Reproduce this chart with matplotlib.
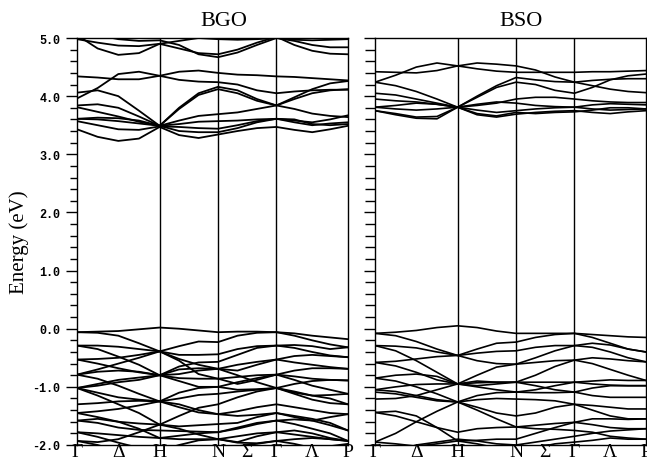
import numpy as np
import matplotlib
matplotlib.use("Agg")
import matplotlib.pyplot as plt
from matplotlib.ticker import MultipleLocator

# bcc path G-H-N-G-P, segment lengths in units of 2pi/a
seg_len = [1.0, np.sqrt(2) / 2, np.sqrt(2) / 2, np.sqrt(3) / 2]
# sampled fractions along each segment
seg_frac = [[0, 0.25, 0.5, 0.75, 1], [1/3, 2/3, 1], [1/3, 2/3, 1], [0.25, 0.5, 0.75, 1]]
k_labels = ['Γ', 'Δ', 'H', 'N', 'Σ', 'Γ', 'Λ', 'P']

# BGO bands (eV) at the sampled k points
bgo_cond = [
    [4.98, 4.92, 4.87, 4.86, 4.90, 4.95, 5.00, 4.98, 4.97, 4.98, 5.00, 4.97, 4.96, 4.97, 4.98],
    [5.05, 4.82, 4.71, 4.74, 4.90, 4.82, 4.74, 4.72, 4.80, 4.92, 5.02, 4.88, 4.78, 4.73, 4.72],
    [5.10, 5.05, 4.98, 4.95, 4.96, 4.88, 4.72, 4.67, 4.75, 4.88, 5.00, 4.95, 4.88, 4.84, 4.84],
    [4.34, 4.32, 4.29, 4.29, 4.35, 4.42, 4.44, 4.40, 4.37, 4.36, 4.34, 4.33, 4.31, 4.29, 4.27],
    [3.96, 4.14, 4.38, 4.42, 4.35, 4.28, 4.25, 4.24, 4.20, 4.10, 4.05, 4.08, 4.10, 4.11, 4.11],
    [4.06, 4.10, 4.00, 3.75, 3.49, 3.80, 4.05, 4.16, 4.10, 3.95, 3.84, 3.98, 4.12, 4.22, 4.26],
    [3.84, 3.86, 3.80, 3.65, 3.49, 3.78, 4.02, 4.12, 4.05, 3.92, 3.84, 3.95, 4.05, 4.10, 4.12],
    [3.81, 3.73, 3.65, 3.56, 3.49, 3.58, 3.66, 3.69, 3.72, 3.78, 3.84, 3.78, 3.70, 3.66, 3.64],
    [3.61, 3.60, 3.57, 3.53, 3.49, 3.52, 3.56, 3.57, 3.58, 3.60, 3.61, 3.58, 3.55, 3.60, 3.67],
    [3.57, 3.50, 3.43, 3.42, 3.48, 3.47, 3.45, 3.44, 3.50, 3.57, 3.61, 3.60, 3.52, 3.50, 3.52],
    [3.43, 3.30, 3.23, 3.27, 3.47, 3.33, 3.28, 3.34, 3.40, 3.45, 3.47, 3.42, 3.38, 3.43, 3.49],
    [3.61, 3.63, 3.62, 3.58, 3.49, 3.40, 3.38, 3.38, 3.45, 3.55, 3.61, 3.55, 3.50, 3.53, 3.55],
]
bgo_val = [
    [-0.06, -0.05, -0.04, -0.01, 0.02, 0.00, -0.03, -0.06, -0.05, -0.05, -0.06, -0.08, -0.12, -0.15, -0.18],
    [-0.06, -0.07, -0.12, -0.25, -0.39, -0.30, -0.22, -0.23, -0.12, -0.07, -0.06, -0.12, -0.20, -0.27, -0.32],
    [-0.29, -0.29, -0.31, -0.35, -0.39, -0.45, -0.45, -0.44, -0.35, -0.30, -0.29, -0.33, -0.40, -0.46, -0.49],
    [-0.29, -0.35, -0.48, -0.62, -0.80, -0.65, -0.58, -0.57, -0.45, -0.33, -0.29, -0.28, -0.30, -0.35, -0.32],
    [-0.53, -0.52, -0.50, -0.45, -0.39, -0.52, -0.62, -0.69, -0.62, -0.57, -0.53, -0.58, -0.62, -0.66, -0.69],
    [-0.53, -0.60, -0.68, -0.75, -0.80, -0.78, -0.72, -0.69, -0.72, -0.62, -0.53, -0.47, -0.45, -0.47, -0.49],
    [-0.79, -0.74, -0.72, -0.74, -0.80, -0.85, -0.86, -0.86, -0.83, -0.80, -0.79, -0.82, -0.86, -0.88, -0.89],
    [-0.79, -0.86, -0.98, -1.12, -1.25, -1.10, -1.02, -1.00, -0.92, -0.85, -0.79, -0.72, -0.68, -0.68, -0.69],
    [-0.79, -0.70, -0.60, -0.50, -0.39, -0.55, -0.78, -0.86, -0.95, -0.88, -0.79, -0.88, -0.98, -1.05, -1.12],
    [-1.02, -0.95, -0.88, -0.84, -0.80, -0.90, -1.00, -1.00, -1.05, -1.04, -1.02, -0.95, -0.90, -0.88, -0.89],
    [-1.02, -1.10, -1.18, -1.22, -1.25, -1.20, -1.14, -1.12, -1.08, -1.05, -1.02, -1.08, -1.15, -1.20, -1.30],
    [-1.02, -1.15, -1.30, -1.45, -1.65, -1.50, -1.36, -1.30, -1.18, -1.08, -1.02, -1.12, -1.22, -1.28, -1.30],
    [-1.02, -0.98, -0.92, -0.88, -0.80, -0.70, -0.68, -0.69, -0.80, -0.92, -1.02, -1.10, -1.15, -1.14, -1.12],
    [-1.30, -1.28, -1.25, -1.24, -1.25, -1.30, -1.40, -1.47, -1.42, -1.35, -1.30, -1.35, -1.40, -1.45, -1.47],
    [-1.45, -1.42, -1.38, -1.32, -1.25, -1.35, -1.44, -1.47, -1.50, -1.48, -1.45, -1.52, -1.58, -1.52, -1.47],
    [-1.45, -1.52, -1.60, -1.63, -1.65, -1.68, -1.66, -1.64, -1.62, -1.52, -1.45, -1.50, -1.55, -1.62, -1.75],
    [-1.58, -1.62, -1.70, -1.74, -1.75, -1.76, -1.77, -1.78, -1.72, -1.64, -1.58, -1.64, -1.72, -1.80, -1.93],
    [-1.58, -1.55, -1.60, -1.72, -1.88, -1.84, -1.80, -1.78, -1.70, -1.62, -1.58, -1.56, -1.58, -1.66, -1.75],
    [-1.78, -1.80, -1.83, -1.86, -1.88, -1.90, -1.90, -1.90, -1.85, -1.80, -1.78, -1.82, -1.86, -1.90, -1.93],
    [-1.78, -1.86, -1.96, -2.05, -2.10, -2.00, -1.92, -1.90, -1.95, -1.85, -1.78, -1.75, -1.80, -1.88, -1.93],
    [-1.93, -1.95, -1.90, -1.78, -1.65, -1.72, -1.82, -1.90, -1.96, -1.97, -1.93, -1.98, -2.05, -2.02, -1.98],
    [-1.93, -2.00, -2.10, -2.15, -2.20, -2.10, -2.05, -2.08, -2.02, -1.98, -1.93, -1.90, -1.88, -1.90, -1.93],
]

# BSO bands (eV)
bso_cond = [
    [4.42, 4.41, 4.40, 4.44, 4.52, 4.57, 4.55, 4.52, 4.45, 4.33, 4.24, 4.27, 4.29, 4.30, 4.30],
    [4.24, 4.36, 4.50, 4.57, 4.52, 4.47, 4.43, 4.41, 4.41, 4.41, 4.41, 4.42, 4.42, 4.43, 4.44],
    [4.24, 4.18, 4.08, 3.95, 3.81, 3.98, 4.15, 4.24, 4.20, 4.10, 4.05, 4.15, 4.28, 4.35, 4.38],
    [4.05, 4.02, 3.95, 3.88, 3.81, 4.00, 4.18, 4.32, 4.28, 4.25, 4.24, 4.18, 4.12, 4.08, 4.06],
    [3.95, 3.92, 3.90, 3.86, 3.81, 3.84, 3.88, 3.95, 3.98, 3.98, 3.95, 3.92, 3.90, 3.89, 3.89],
    [3.81, 3.84, 3.88, 3.86, 3.81, 3.86, 3.90, 3.88, 3.84, 3.82, 3.81, 3.85, 3.87, 3.86, 3.85],
    [3.81, 3.78, 3.76, 3.78, 3.81, 3.76, 3.72, 3.75, 3.78, 3.80, 3.81, 3.78, 3.76, 3.77, 3.78],
    [3.75, 3.70, 3.64, 3.65, 3.81, 3.68, 3.64, 3.69, 3.72, 3.74, 3.75, 3.72, 3.70, 3.73, 3.75],
    [3.75, 3.68, 3.62, 3.61, 3.81, 3.70, 3.66, 3.72, 3.70, 3.72, 3.73, 3.76, 3.80, 3.80, 3.78],
]
bso_val = [
    [-0.08, -0.06, -0.03, 0.02, 0.05, 0.02, -0.04, -0.08, -0.08, -0.08, -0.08, -0.10, -0.12, -0.14, -0.15],
    [-0.08, -0.12, -0.22, -0.35, -0.46, -0.35, -0.25, -0.23, -0.15, -0.10, -0.08, -0.15, -0.25, -0.35, -0.40],
    [-0.29, -0.30, -0.33, -0.40, -0.46, -0.42, -0.39, -0.38, -0.32, -0.29, -0.29, -0.32, -0.40, -0.50, -0.57],
    [-0.29, -0.38, -0.55, -0.75, -0.95, -0.80, -0.66, -0.61, -0.50, -0.38, -0.29, -0.25, -0.28, -0.35, -0.40],
    [-0.58, -0.56, -0.52, -0.48, -0.46, -0.55, -0.60, -0.61, -0.58, -0.55, -0.54, -0.60, -0.70, -0.80, -0.89],
    [-0.58, -0.64, -0.75, -0.88, -0.95, -0.93, -0.92, -0.92, -0.80, -0.65, -0.54, -0.50, -0.52, -0.55, -0.57],
    [-0.85, -0.80, -0.78, -0.82, -0.95, -0.98, -0.95, -0.92, -0.92, -0.92, -0.92, -0.90, -0.88, -0.89, -0.89],
    [-0.85, -0.90, -1.00, -1.12, -1.26, -1.15, -1.10, -1.09, -1.05, -0.98, -0.92, -0.95, -0.97, -0.98, -0.98],
    [-1.05, -1.00, -0.96, -0.95, -0.95, -1.00, -1.05, -1.09, -1.10, -1.10, -1.09, -1.15, -1.18, -1.18, -1.18],
    [-1.05, -1.08, -1.15, -1.22, -1.26, -1.22, -1.20, -1.21, -1.22, -1.24, -1.30, -1.32, -1.35, -1.38, -1.38],
    [-1.09, -1.12, -1.18, -1.24, -1.26, -1.35, -1.45, -1.50, -1.45, -1.35, -1.30, -1.40, -1.50, -1.55, -1.55],
    [-1.21, -1.20, -1.15, -1.05, -0.95, -0.90, -0.92, -0.92, -0.98, -1.05, -1.09, -1.02, -0.98, -0.98, -0.98],
    [-1.44, -1.50, -1.60, -1.70, -1.78, -1.72, -1.70, -1.69, -1.66, -1.63, -1.61, -1.65, -1.70, -1.72, -1.72],
    [-1.95, -1.80, -1.60, -1.42, -1.26, -1.40, -1.55, -1.69, -1.72, -1.73, -1.75, -1.78, -1.85, -1.88, -1.90],
    [-1.44, -1.42, -1.50, -1.70, -1.93, -1.92, -1.90, -1.90, -1.80, -1.70, -1.61, -1.55, -1.55, -1.56, -1.55],
    [-1.95, -1.98, -2.02, -1.98, -1.93, -1.98, -2.05, -2.10, -2.05, -1.98, -1.95, -1.92, -1.88, -1.90, -1.90],
    [-2.20, -2.10, -2.00, -1.95, -1.90, -1.93, -1.98, -2.00, -1.95, -1.90, -1.85, -1.80, -1.76, -1.74, -1.72],
]

# k coordinates along the path
k = []
start = 0.0
for L, fr in zip(seg_len, seg_frac):
    k += [start + f * L for f in fr]
    start += L
k = np.array(k)
sym = np.concatenate([[0], np.cumsum(seg_len)])
label_pos = [sym[0], (sym[0] + sym[1]) / 2, sym[1], sym[2], (sym[2] + sym[3]) / 2,
             sym[3], (sym[3] + sym[4]) / 2, sym[4]]

serif = 'Liberation Serif'
fig = plt.figure(figsize=(6.47, 4.60), dpi=100)
W, H = 647, 460
ax1 = fig.add_axes([77 / W, 14 / H, 271 / W, 407 / H])
ax2 = fig.add_axes([375 / W, 14 / H, 271 / W, 407 / H])

for ax, bands, name, lw in [(ax1, bgo_cond + bgo_val, 'BGO', 1.3),
                            (ax2, bso_cond + bso_val, 'BSO', 1.2)]:
    for b in bands:
        ax.plot(k, b, color='black', lw=lw, solid_joinstyle='round')
    for s in sym[1:-1]:
        ax.axvline(s, color='black', lw=1.0)
    ax.set_xlim(sym[0], sym[-1])
    ax.set_ylim(-2.0, 5.0)
    ax.yaxis.set_major_locator(MultipleLocator(1.0))
    ax.yaxis.set_minor_locator(MultipleLocator(0.2))
    ax.tick_params(axis='y', which='major', direction='out', length=8, width=1.0)
    ax.tick_params(axis='y', which='minor', direction='out', length=5, width=1.0)
    ax.set_xticks(label_pos)
    ax.set_xticklabels(k_labels, fontsize=14, family=serif)
    ax.tick_params(axis='x', length=0, pad=-1.5)
    for sp in ax.spines.values():
        sp.set_linewidth(1.0)
    ax.text(0.54, 1.032, name, transform=ax.transAxes, ha='center', va='baseline',
            fontsize=16, family=serif)

ax1.set_yticklabels([f'{v:.1f}' for v in ax1.get_yticks()], family='Liberation Mono',
                    fontsize=8.5, fontweight='bold')
ax1.tick_params(axis='y', which='major', pad=4)
ax2.tick_params(axis='y', which='minor', length=7)
ax2.set_yticklabels([])

fig.text(19 / W, 1 - 242 / H, 'Energy (eV)', rotation=90, ha='center', va='center',
         fontsize=15, family=serif)

fig.savefig('out.png', dpi=100)
